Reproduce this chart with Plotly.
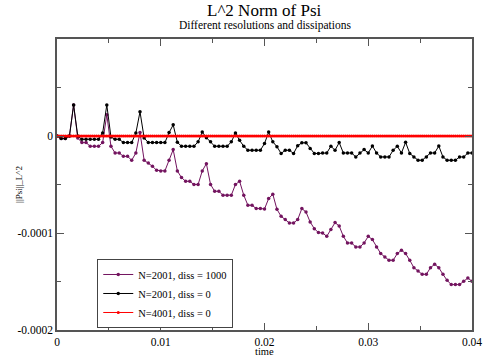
import plotly.graph_objects as go

DT = 0.0004
time_2001 = [round(i * DT, 6) for i in range(101)]
time_4001 = [round(i * DT / 2, 6) for i in range(201)]

# values in units of 1e-6
psi_diss1000 = [
    0, -2.7, -2.7, 0, 32, -2, -6.8, -6.8, -10.6, -10.6,
    -10.6, -6.8, 22, -10.6, -17.5, -17.5, -21, -21, -25, -17.5,
    3.5, -25, -27.8, -31.2, -35.4, -36, -36, -25, -14, -36,
    -42.9, -46.7, -46.7, -50, -50, -36, -28.5, -50, -57, -57,
    -61, -61, -61, -50, -46.7, -61, -71.4, -71.4, -74.8, -74.8,
    -75.2, -64.5, -60, -75.6, -82.8, -86.2, -89.7, -89.7, -86.2, -74.8,
    -78.4, -88.6, -95.5, -99.6, -100, -103.4, -96.5, -89.3, -92.8, -103.4,
    -110.3, -110.3, -114.4, -114.4, -110.3, -103.4, -106.8, -114.4, -121.2, -124.7,
    -128.1, -128.1, -121.2, -117.8, -121.2, -128.1, -135.7, -139.2, -142.6, -142.6,
    -135.7, -132.3, -135.7, -142.6, -148.8, -153.2, -153.2, -153.2, -149.8, -146.4,
    -149.8,
]
psi_diss0 = [
    0, -2.7, -2.7, 0, 32, 0, -3.4, -3.4, -3.4, -3.4,
    -3.4, 3, 32, -1, -3.4, -3.4, -6.8, -6.8, -6.8, 3,
    25, -2, -6.8, -6.8, -6.8, -6.8, -6.8, 3.5, 11.5, -6.5,
    -10.6, -10.6, -10.6, -10.6, -6, 4, -1.7, -6, -10.6, -10.6,
    -10.6, -10.6, -6, 3, -4.5, -10.6, -14.7, -14.7, -14.7, -14.7,
    -7.8, 4, -6, -11, -18, -14.7, -14.7, -18, -10, -7,
    -7, -13, -18, -18, -17.5, -17.5, -10.6, -14.7, -6.8, -17.5,
    -17.5, -17.5, -21.6, -17.5, -14, -17.5, -10.3, -17.5, -21.6, -21.6,
    -21.6, -14.7, -10.6, -17.5, -6.5, -18, -21.6, -25, -25, -21.6,
    -17.5, -17.5, -10.3, -21.6, -25, -25, -25, -21.6, -21.6, -17.5,
    -17.5,
]
psi_4001 = [0.0] * 201

series_names = ["N=2001, diss = 1000", "N=2001, diss = 0", "N=4001, diss = 0"]
series_colors = ["rgb(115,20,95)", "black", "red"]
marker_sizes = [3.5, 3.5, 3]

x_tickvals = [0, 0.01, 0.02, 0.03, 0.04]
x_ticktext = ["0", "0.01", "0.02", "0.03", "0.04"]
y_tickvals = [-0.0002, -0.0001, 0]
y_ticktext = ["-0.0002", "-0.0001", "0"]

SERIF = "Liberation Serif, DejaVu Serif, Times New Roman, serif"

fig = go.Figure()
datasets = [
    (time_2001, [v * 1e-6 for v in psi_diss1000]),
    (time_2001, [v * 1e-6 for v in psi_diss0]),
    (time_4001, psi_4001),
]
for (xs, ys), name, col, ms in zip(datasets, series_names, series_colors, marker_sizes):
    fig.add_trace(go.Scatter(
        x=xs, y=ys, name=name, mode="lines+markers",
        line=dict(color=col, width=1),
        marker=dict(color=col, size=ms, symbol="circle", line=dict(width=0)),
    ))

axis_common = dict(
    showline=True, mirror="allticks", linecolor="#555", linewidth=1.5,
    ticks="inside", ticklen=7, tickcolor="#555", tickwidth=1,
    showgrid=False, zeroline=False, automargin=False,
    tickfont=dict(family=SERIF, size=11.5, color="black"),
)

fig.update_layout(
    width=485, height=357,
    margin=dict(l=56.5, r=13.3, t=39, b=27),
    paper_bgcolor="white", plot_bgcolor="white",
    font=dict(family=SERIF, color="black"),
    showlegend=True,
    legend=dict(
        x=0.097, y=0.244, xanchor="left", yanchor="top",
        bgcolor="white", bordercolor="#444", borderwidth=1,
        font=dict(family=SERIF, size=10.5, color="black"),
        tracegroupgap=0, itemwidth=30,
    ),
    xaxis=dict(
        range=[0, 0.04], tickmode="array", tickvals=x_tickvals, ticktext=x_ticktext,
        minor=dict(tickvals=[0.005, 0.015, 0.025, 0.035], ticks="inside", ticklen=4, tickcolor="#555"),
        **axis_common,
    ),
    yaxis=dict(
        range=[-0.0002, 0.0001], tickmode="array", tickvals=y_tickvals, ticktext=y_ticktext,
        minor=dict(tickvals=[-0.00015, -0.00005, 0.00005], ticks="inside", ticklen=4, tickcolor="#555"),
        **axis_common,
    ),
    annotations=[
        dict(text="L^2 Norm of Psi", xref="paper", yref="paper", x=0.5, y=1,
             yshift=29, xanchor="center", yanchor="middle", showarrow=False, borderpad=0,
             font=dict(family=SERIF, size=17, color="black")),
        dict(text="Different resolutions and dissipations", xref="paper", yref="paper",
             x=0.5, y=1, yshift=13.5, xanchor="center", yanchor="middle", showarrow=False,
             borderpad=0, font=dict(family=SERIF, size=11.5, color="black")),
        dict(text="||Psi||_L^2", xref="paper", yref="paper", x=-0.093, y=0.5,
             xanchor="center", yanchor="middle", textangle=-90, showarrow=False,
             font=dict(family=SERIF, size=9, color="black")),
        dict(text="time", xref="paper", yref="paper", x=0.5, y=-0.074,
             xanchor="center", yanchor="middle", showarrow=False, borderpad=0,
             font=dict(family=SERIF, size=10.5, color="black")),
    ],
)

fig.write_html("out.html", config={"displayModeBar": False},
               post_script="document.body.style.margin='0';")
